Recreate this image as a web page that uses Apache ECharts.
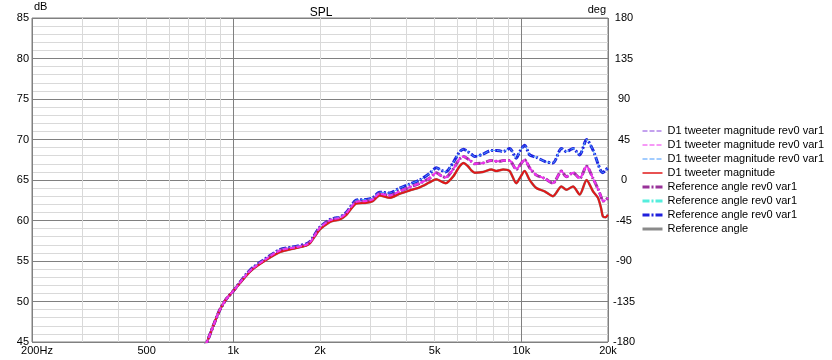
<!DOCTYPE html>
<html><head><meta charset="utf-8">
<script src="https://cdn.jsdelivr.net/npm/echarts@6/dist/echarts.min.js"></script>
<style>html,body{margin:0;padding:0;background:#fff}#c{width:832px;height:360px}</style>
</head><body><div id="c"></div>
<script>
// ---- data ----
const freqHz = [780,810,850,896,945,1000,1110,1170,1270,1450,1650,1790,1845,1890,2000,2160,2250,2340,2470,2670,2900,3050,3220,3490,3780,4090,4440,4800,5070,5280,5460,5790,6110,6300,6530,6700,6890,7360,7870,8200,8410,8640,9110,9610,9870,10270,10690,11280,12050,12880,13780,14340,15120,15950,16850,17740,18460,18900,19200,19600,20000];
const splRed = [44.0,45.0,46.9,48.9,50.3,51.3,53.2,54.0,54.9,56.1,56.6,56.9,57.2,57.7,58.9,59.8,60.0,60.1,60.7,62.1,62.2,62.4,63.1,62.8,63.3,63.7,64.1,64.7,65.1,64.8,64.6,65.4,66.7,67.1,66.7,66.2,65.9,66.0,66.3,66.1,66.2,66.3,66.1,64.6,65.2,66.1,65.0,64.0,63.6,63.0,64.2,63.8,64.2,63.2,65.0,63.6,62.8,61.6,60.5,60.4,60.7];
const splMagenta = [44.0,45.0,46.9,48.9,50.3,51.3,53.3,54.1,55.0,56.3,56.7,57.0,57.3,57.8,59.1,60.0,60.2,60.3,60.9,62.3,62.4,62.6,63.3,63.1,63.6,64.1,64.6,65.2,65.9,65.5,65.3,66.3,67.6,67.9,67.6,67.3,67.0,67.1,67.4,67.3,67.3,67.4,67.4,66.3,66.8,67.5,66.5,65.6,65.2,64.6,66.1,65.4,65.9,65.2,66.7,65.2,63.9,63.0,62.4,62.5,62.8];
const splBlue = [44.0,45.0,46.9,48.9,50.3,51.3,53.4,54.2,55.1,56.4,56.8,57.1,57.4,57.9,59.2,60.1,60.3,60.4,61.0,62.5,62.6,62.8,63.5,63.4,64.0,64.5,65.0,65.8,66.5,66.2,66.0,67.1,68.5,68.8,68.5,68.2,67.9,68.2,68.65,68.65,68.6,68.5,68.9,67.7,68.5,69.3,68.1,67.8,67.3,67.1,68.9,68.5,68.9,68.1,70.0,68.7,67.0,66.1,65.9,66.2,66.5];
const xTickFreqs = [200,500,1000,2000,5000,10000,20000];
const xTickLabels = ['200Hz','500','1k','2k','5k','10k','20k'];
const xGridFreqs = [200,300,400,500,600,700,800,900,1000,2000,3000,4000,5000,6000,7000,8000,9000,10000,20000];
const xMajorGridFreqs = [200,1000,10000,20000];
const legendNames = [
  'D1 tweeter magnitude rev0 var1',
  'D1 tweeter magnitude rev0 var1 ',
  'D1 tweeter magnitude rev0 var1  ',
  'D1 tweeter magnitude',
  'Reference angle rev0 var1',
  'Reference angle rev0 var1 ',
  'Reference angle rev0 var1  ',
  'Reference angle'
];

// ---- build ----
const pairs = vals => freqHz.map((f, i) => [f, vals[i]]);
const L = v => Math.log10(v);
const FONT = 'Liberation Sans, Arial, sans-serif';
const dark = '#808080', light = '#d9d9d9';
const gridColors = xGridFreqs.map(f => xMajorGridFreqs.includes(f) ? dark : light);
const legendWidths = [1, 1, 1, 1.5, 3, 3, 3, 3];

function lineSeries(name, data, color, width, type, z) {
  return {
    name, type: 'line', data, xAxisIndex: 0, yAxisIndex: 0,
    symbol: 'none', smooth: 0.25, clip: true, z,
    lineStyle: { color, width, type },
    itemStyle: { color },
    emphasis: { disabled: true }
  };
}
const dashDot = [7, 2, 2, 2];
const thinDash = [5, 2];

const chart = echarts.init(document.getElementById('c'), null, { renderer: 'canvas' });
chart.setOption({
  animation: false,
  backgroundColor: '#fff',
  textStyle: { fontFamily: FONT },
  title: {
    text: 'SPL', left: 316, top: 2, textAlign: 'center',
    textStyle: { fontSize: 12, fontWeight: 'normal', color: '#000', fontFamily: FONT }
  },
  grid: {
    left: 32, right: 224, top: 18, bottom: 18,
    show: true, borderColor: dark, borderWidth: 1, backgroundColor: '#fff'
  },
  legend: {
    orient: 'vertical', left: 641, top: 124, padding: 0,
    itemWidth: 20, itemHeight: 14, itemGap: 0,
    selectedMode: false,
    data: legendNames.map((n, i) => ({ name: n, lineStyle: { width: legendWidths[i] } })),
    itemStyle: { opacity: 0, borderWidth: 0 },
    textStyle: { fontSize: 11, color: '#000', fontFamily: FONT, lineHeight: 14 }
  },
  xAxis: [
    { type: 'log', logBase: 10, min: 200, max: 20000, show: false,
      splitLine: { show: false } },
    { type: 'value', min: L(200), max: L(20000), position: 'bottom',
      axisLine: { show: false }, axisTick: { show: false, customValues: xGridFreqs.map(L) },
      axisLabel: {
        customValues: xTickFreqs.map(L), fontSize: 11, color: '#000', margin: 3, fontFamily: FONT,
        formatter: v => {
          const i = xTickFreqs.findIndex(f => Math.abs(L(f) - v) < 1e-6);
          if (i < 0) return '';
          return i === 0 ? '{first|' + xTickLabels[i] + '}' : xTickLabels[i];
        },
        rich: { first: { padding: [0, 0, 0, 10], fontSize: 11, color: '#000', fontFamily: FONT } }
      },
      splitLine: { show: true, lineStyle: { color: gridColors, width: 1 } }
    }
  ],
  yAxis: [
    { type: 'value', min: 45, max: 85, interval: 5, position: 'left',
      name: 'dB', nameLocation: 'end', nameGap: 3,
      nameTextStyle: { align: 'left', verticalAlign: 'bottom', fontSize: 11, color: '#000', padding: [0, 0, 0, 2], fontFamily: FONT },
      axisLine: { show: false }, axisTick: { show: false },
      axisLabel: { fontSize: 11, color: '#000', margin: 3, fontFamily: FONT },
      splitLine: { show: true, lineStyle: { color: dark, width: 1 } },
      minorTick: { show: false, splitNumber: 5 },
      minorSplitLine: { show: true, lineStyle: { color: light, width: 1 } }
    },
    { type: 'value', min: -180, max: 180, interval: 45, position: 'right',
      name: 'deg', nameLocation: 'end', nameGap: 3,
      nameTextStyle: { align: 'right', verticalAlign: 'bottom', fontSize: 11, color: '#000', padding: [0, 2, 0, 0], fontFamily: FONT },
      axisLine: { show: false }, axisTick: { show: false },
      axisLabel: { fontSize: 11, color: '#000', margin: 16, align: 'center', fontFamily: FONT },
      splitLine: { show: false }
    }
  ],
  series: [
    lineSeries(legendNames[7], pairs(splRed), '#8a8a8a', 2.5, 'solid', 2),
    lineSeries(legendNames[6], pairs(splBlue), '#2020dd', 3, dashDot, 2),
    lineSeries(legendNames[4], pairs(splMagenta), '#993399', 3, dashDot, 2),
    lineSeries(legendNames[5], [], '#55eedd', 3, dashDot, 2),
    lineSeries(legendNames[3], pairs(splRed), '#e01818', 2, 'solid', 3),
    lineSeries(legendNames[2], pairs(splBlue), '#4499ff', 1, thinDash, 3),
    lineSeries(legendNames[0], pairs(splMagenta), '#8844dd', 1, thinDash, 3),
    lineSeries(legendNames[1], pairs(splMagenta), '#ee33ee', 2, thinDash, 3)
  ]
});
</script>
</body></html>
